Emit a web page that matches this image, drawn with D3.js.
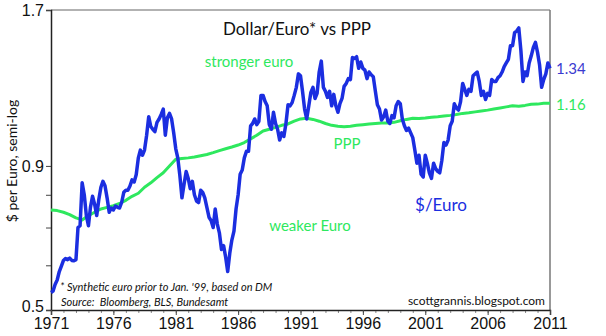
<!DOCTYPE html>
<html>
<head>
<meta charset="utf-8">
<script src="https://cdn.jsdelivr.net/npm/d3@7"></script>
<style>
  html, body { margin: 0; padding: 0; background: #fff; }
  svg { display: block; font-family: Lato, 'Noto Sans', sans-serif; }
</style>
</head>
<body>
<div id="chart"></div>
<script>
// ============================================================================
// Dollar/Euro* vs PPP — semi-log line chart
// ============================================================================

// $/Euro, bimonthly samples (Jan, Mar, May, Jul, Sep, Nov) from Jan 1971
const euroValues = [
  0.537, 0.540, 0.555, 0.565, 0.585, 0.598,
  0.612, 0.617, 0.614, 0.618, 0.612, 0.611,
  0.614, 0.700, 0.705, 0.840, 0.800, 0.735,
  0.705, 0.760, 0.795, 0.770, 0.735, 0.785,
  0.825, 0.845, 0.830, 0.790, 0.745, 0.758,
  0.752, 0.764, 0.760, 0.758, 0.776, 0.808,
  0.815, 0.815, 0.829, 0.850, 0.843, 0.869,
  0.930, 0.960, 0.940, 0.960, 1.020, 1.100,
  1.057, 1.045, 1.035, 1.075, 1.090, 1.110,
  1.135, 1.020, 1.095, 1.115, 1.090, 1.030,
  0.965, 0.930, 0.865, 0.790, 0.835, 0.880,
  0.855, 0.820, 0.845, 0.800, 0.780, 0.775,
  0.815, 0.808, 0.790, 0.760, 0.730, 0.720,
  0.700, 0.755, 0.710, 0.685, 0.640, 0.650,
  0.620, 0.585, 0.630, 0.665, 0.690, 0.755,
  0.800, 0.870, 0.885, 0.930, 0.955, 0.955,
  1.060, 1.070, 1.090, 1.065, 1.080, 1.200,
  1.200, 1.170, 1.150, 1.065, 1.045, 1.120,
  1.070, 1.045, 1.000, 1.030, 1.015, 1.070,
  1.155, 1.150, 1.165, 1.200, 1.240, 1.310,
  1.300, 1.220, 1.135, 1.090, 1.150, 1.215,
  1.240, 1.185, 1.210, 1.320, 1.380, 1.240,
  1.220, 1.190, 1.220, 1.150, 1.205, 1.150,
  1.120, 1.160, 1.185, 1.245, 1.260, 1.285,
  1.280, 1.400, 1.395, 1.405, 1.340, 1.375,
  1.340, 1.330, 1.285, 1.320, 1.305, 1.295,
  1.220, 1.155, 1.135, 1.085, 1.100, 1.130,
  1.080, 1.070, 1.105, 1.095, 1.150, 1.170,
  1.160, 1.090, 1.060, 1.040, 1.050, 1.030,
  1.010, 0.960, 0.910, 0.940, 0.870, 0.860,
  0.940, 0.910, 0.875, 0.855, 0.910, 0.890,
  0.880, 0.875, 0.920, 0.990, 0.980, 1.000,
  1.060, 1.080, 1.160, 1.140, 1.130, 1.170,
  1.260, 1.230, 1.200, 1.230, 1.220, 1.300,
  1.310, 1.320, 1.270, 1.200, 1.220, 1.180,
  1.210, 1.200, 1.280, 1.270, 1.270, 1.290,
  1.300, 1.320, 1.350, 1.370, 1.390, 1.470,
  1.470, 1.550, 1.560, 1.580, 1.440, 1.270,
  1.320, 1.300, 1.370, 1.410, 1.460, 1.490,
  1.430, 1.360, 1.240, 1.280, 1.310, 1.370,
  1.340
];

// PPP, semiannual samples (Jan, Jul) from Jan 1971
const pppValues = [
  0.752, 0.750, 0.745, 0.738, 0.728, 0.722, 0.735, 0.745,
  0.755, 0.760, 0.765, 0.772, 0.782, 0.795, 0.805, 0.825,
  0.840, 0.858, 0.875, 0.900, 0.925, 0.928, 0.930, 0.933,
  0.938, 0.943, 0.950, 0.958, 0.965, 0.972, 0.980, 0.990,
  1.005, 1.020, 1.038, 1.045, 1.053, 1.062, 1.068, 1.080,
  1.090, 1.093, 1.088, 1.080, 1.070, 1.062, 1.058, 1.056,
  1.058, 1.062, 1.065, 1.068, 1.070, 1.072, 1.072, 1.075,
  1.082, 1.088, 1.093, 1.092, 1.094, 1.098, 1.100, 1.103,
  1.106, 1.110, 1.115, 1.118, 1.122, 1.126, 1.130, 1.135,
  1.140, 1.145, 1.150, 1.148, 1.152, 1.157, 1.158, 1.162,
  1.162
];

const yearTicks = [1971, 1976, 1981, 1986, 1991, 1996, 2001, 2006, 2011];
const yTicks = [0.5, 0.6, 0.7, 0.8, 0.9, 1.7];
const yLabels = [0.5, 0.9, 1.7];

(function() {
  'use strict';

  const width = 606, height = 336;
  const left = 51, right = 550, top = 10, bottom = 310;
  const BLUE = '#1b2ee0';
  const GREEN = '#2ee85e';

  const start = new Date(1971, 0, 1);
  const euro = euroValues.map((v, i) => ({ date: d3.timeMonth.offset(start, i * 2), value: v }));
  const ppp = pppValues.map((v, i) => ({ date: d3.timeMonth.offset(start, i * 6), value: v }));

  const svg = d3.select('#chart')
    .append('svg')
    .attr('width', width)
    .attr('height', height);

  const x = d3.scaleTime()
    .domain([new Date(1971, 0, 1), new Date(2011, 0, 1)])
    .range([left, right]);

  const y = d3.scaleLog()
    .domain([0.5, 1.7])
    .range([bottom, top]);

  // Frame: top and right in grey
  svg.append('line')
    .attr('x1', left).attr('x2', right).attr('y1', top).attr('y2', top)
    .attr('stroke', '#999').attr('stroke-width', 1.5);
  svg.append('line')
    .attr('x1', right).attr('x2', right).attr('y1', top).attr('y2', bottom)
    .attr('stroke', '#777').attr('stroke-width', 1.5);

  // Left axis
  const yAxis = d3.axisLeft(y)
    .tickValues(yTicks)
    .tickSize(5)
    .tickFormat(d => yLabels.includes(d) ? d3.format('.1f')(d) : '');

  const gy = svg.append('g')
    .attr('transform', `translate(${left},0)`)
    .call(yAxis);
  gy.select('.domain').attr('stroke', '#222').attr('stroke-width', 1.5);
  gy.selectAll('.tick line').attr('stroke', '#444');
  gy.selectAll('.tick text')
    .attr('font-size', '16px')
    .attr('fill', '#111')
    .attr('x', -7)
    .attr('dy', d => d === 0.5 ? '0.1em' : '0.32em');

  // Bottom axis: minor ticks each year, labels every five
  const gxMinor = svg.append('g')
    .attr('transform', `translate(0,${bottom})`)
    .call(d3.axisBottom(x)
      .ticks(d3.timeYear.every(1))
      .tickSize(3)
      .tickFormat(''));
  gxMinor.select('.domain').remove();
  gxMinor.selectAll('.tick line').attr('stroke', '#888');

  const gx = svg.append('g')
    .attr('transform', `translate(0,${bottom})`)
    .call(d3.axisBottom(x)
      .tickValues(yearTicks.map(yr => new Date(yr, 0, 1)))
      .tickSize(5)
      .tickPadding(3)
      .tickFormat(d3.timeFormat('%Y')));
  gx.select('.domain').attr('stroke', '#222').attr('stroke-width', 1.5);
  gx.selectAll('.tick line').attr('stroke', '#444');
  gx.selectAll('.tick text')
    .attr('font-size', '16px')
    .attr('fill', '#111');

  // Lines
  const line = d3.line()
    .x(d => x(d.date))
    .y(d => y(d.value));

  svg.append('path')
    .datum(ppp)
    .attr('fill', 'none')
    .attr('stroke', GREEN)
    .attr('stroke-width', 3)
    .attr('stroke-linejoin', 'round')
    .attr('d', line);

  svg.append('path')
    .datum(euro)
    .attr('fill', 'none')
    .attr('stroke', BLUE)
    .attr('stroke-width', 3.5)
    .attr('stroke-linejoin', 'round')
    .attr('d', line);

  // Texts
  svg.append('text')
    .attr('x', 297).attr('y', 35)
    .attr('text-anchor', 'middle')
    .attr('font-size', '17px')
    .attr('fill', '#111')
    .text('Dollar/Euro* vs PPP');

  svg.append('text')
    .attr('transform', 'translate(17,161) rotate(-90)')
    .attr('text-anchor', 'middle')
    .attr('font-size', '14px')
    .attr('fill', '#111')
    .text('$ per Euro, semi-log');

  svg.append('text')
    .attr('x', 249).attr('y', 67)
    .attr('text-anchor', 'middle')
    .attr('font-size', '15px')
    .attr('fill', GREEN)
    .text('stronger euro');

  svg.append('text')
    .attr('x', 347).attr('y', 149)
    .attr('text-anchor', 'middle')
    .attr('font-size', '15px')
    .attr('fill', GREEN)
    .text('PPP');

  svg.append('text')
    .attr('x', 310).attr('y', 231)
    .attr('text-anchor', 'middle')
    .attr('font-size', '15px')
    .attr('fill', GREEN)
    .text('weaker Euro');

  svg.append('text')
    .attr('x', 441).attr('y', 211)
    .attr('text-anchor', 'middle')
    .attr('font-size', '17px')
    .attr('fill', BLUE)
    .text('$/Euro');

  svg.append('text')
    .attr('x', 556).attr('y', y(1.34) + 6)
    .attr('font-size', '15px')
    .attr('fill', '#3a3ad0')
    .text('1.34');

  svg.append('text')
    .attr('x', 556).attr('y', y(1.16) + 6)
    .attr('font-size', '15px')
    .attr('fill', GREEN)
    .text('1.16');

  svg.append('text')
    .attr('x', 60).attr('y', 291)
    .attr('font-size', '11px')
    .attr('font-style', 'italic')
    .attr('fill', '#111')
    .text("* Synthetic euro prior to Jan. '99, based on DM");

  svg.append('text')
    .attr('x', 61).attr('y', 306)
    .attr('font-size', '11px')
    .attr('font-style', 'italic')
    .attr('fill', '#111')
    .style('white-space', 'pre')
    .text('Source:  Bloomberg, BLS, Bundesamt');

  svg.append('text')
    .attr('x', 545).attr('y', 305)
    .attr('text-anchor', 'end')
    .attr('font-size', '12px')
    .attr('fill', '#111')
    .text('scottgrannis.blogspot.com');

})();
</script>
</body>
</html>
